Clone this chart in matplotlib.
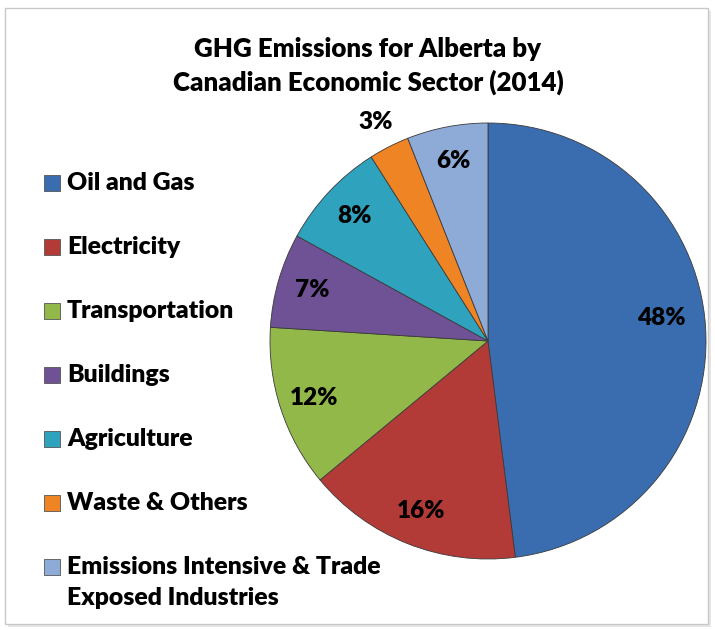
import matplotlib
matplotlib.use("Agg")
import matplotlib.pyplot as plt
from matplotlib.patches import Rectangle
import numpy as np

plt.rcParams['font.family'] = ['Lato', 'DejaVu Sans']

sectors = ['Oil and Gas', 'Electricity', 'Transportation', 'Buildings',
           'Agriculture', 'Waste & Others',
           'Emissions Intensive & Trade\nExposed Industries']
shares = [48, 16, 12, 7, 8, 3, 6]
colors = ['#3a6db0', '#b33b37', '#93b84a', '#6f5195',
          '#2fa2bd', '#ef8424', '#8eabd8']

W, H = 715, 630
fig = plt.figure(figsize=(W / 100, H / 100), dpi=100)

# chart frame with a faint shadow
fig.patches.append(Rectangle((8 / W, 1 - 627 / H), 703 / W, 616 / H,
                             transform=fig.transFigure, facecolor='#e6e6e6',
                             edgecolor='none', zorder=-2))
fig.patches.append(Rectangle((5 / W, 1 - 624 / H), 703 / W, 616 / H,
                             transform=fig.transFigure, facecolor='white',
                             edgecolor='#c8c8c8', lw=1.0, zorder=-1))

cx, cy, r = 488, 341, 218
ax = fig.add_axes([(cx - r) / W, (H - cy - r) / H, 2 * r / W, 2 * r / H])
ax.set_zorder(1)
ax.patch.set_visible(False)
wedges, texts, autotexts = ax.pie(
    shares, colors=colors, startangle=90, counterclock=False,
    autopct='%1.0f%%', pctdistance=0.84,
    wedgeprops=dict(edgecolor='#3a3a3a', linewidth=0.6),
    textprops=dict(fontsize=17.5, fontweight='heavy', color='black'))
ax.set_xlim(-1, 1)
ax.set_ylim(-1, 1)
ax.set_aspect('equal')

# small slice label sits outside the pie
for w, t, s in zip(wedges, autotexts, shares):
    a = np.deg2rad((w.theta1 + w.theta2) / 2)
    if s < 5:
        t.set_position((1.13 * np.cos(a), 1.13 * np.sin(a)))
    elif s > 40:
        t.set_position((0.8 * np.cos(a + 0.07), 0.8 * np.sin(a + 0.07)))

fig.text(368 / W, 1 - 66 / H, 'GHG Emissions for Alberta by\nCanadian Economic Sector (2014)',
         ha='center', va='center', fontsize=18.6, fontweight='heavy',
         linespacing=1.4)

# legend on the left
y0 = 183
for i, (lab, c) in enumerate(zip(sectors, colors)):
    y = y0 + i * 64
    fig.patches.append(Rectangle((44 / W, 1 - (y + 8) / H), 16 / W, 16 / H,
                                 transform=fig.transFigure, facecolor=c,
                                 edgecolor='#555555', lw=0.6))
    fig.text(67 / W, 1 - (y - 11) / H, lab, ha='left', va='top',
             fontsize=17.8, fontweight='heavy', linespacing=1.5)

fig.savefig('out.png', dpi=100)
